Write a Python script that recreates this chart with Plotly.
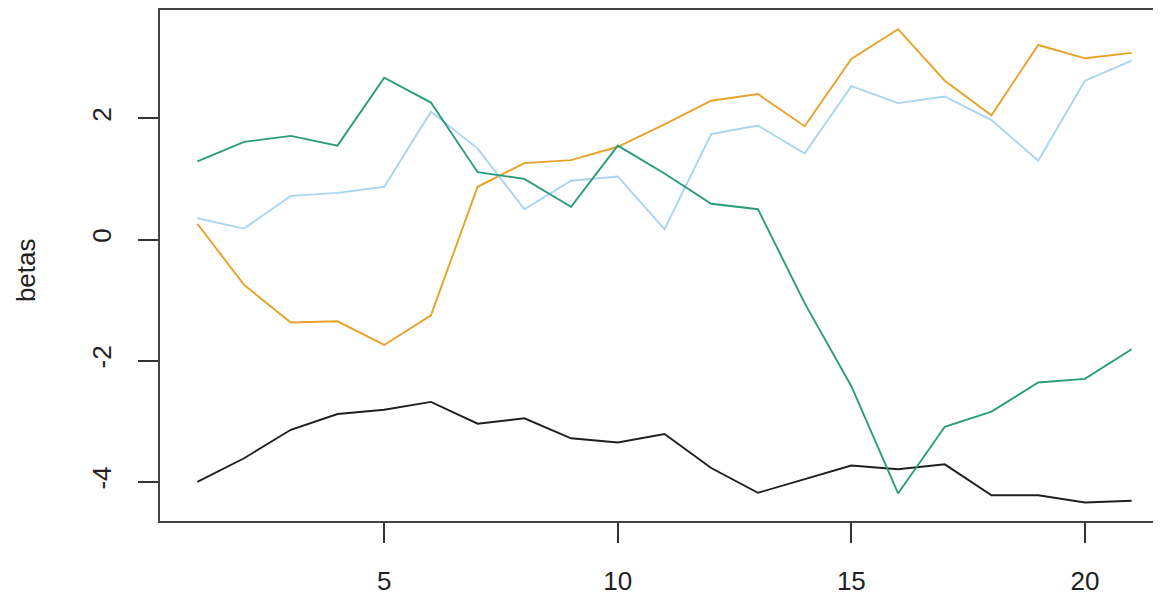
import plotly.graph_objects as go

# index 1..21 on the x axis
steps = list(range(1, 22))

# betas, one list per series
beta_black = [-4.00, -3.61, -3.14, -2.88, -2.81, -2.68, -3.04, -2.95, -3.28, -3.35, -3.21,
              -3.77, -4.18, -3.95, -3.73, -3.79, -3.71, -4.22, -4.22, -4.34, -4.31]
beta_orange = [0.26, -0.75, -1.37, -1.35, -1.74, -1.25, 0.87, 1.26, 1.31, 1.53, 1.90,
               2.29, 2.40, 1.87, 2.98, 3.47, 2.62, 2.05, 3.21, 2.99, 3.08]
beta_skyblue = [0.35, 0.18, 0.72, 0.77, 0.87, 2.11, 1.50, 0.50, 0.97, 1.04, 0.17,
                1.74, 1.88, 1.42, 2.53, 2.25, 2.36, 1.97, 1.30, 2.62, 2.95]
beta_green = [1.29, 1.61, 1.71, 1.55, 2.67, 2.26, 1.11, 1.00, 0.54, 1.55, 1.09,
              0.59, 0.50, -1.05, -2.42, -4.19, -3.09, -2.84, -2.36, -2.30, -1.81]

x_ticks = [5, 10, 15, 20]
y_ticks = [-4, -2, 0, 2]
# R prints a plain hyphen, not the unicode minus plotly uses
y_ticktext = ["-4", "-2", "0", "2"]

series = [
    (beta_black, "#1f1f1f"),
    (beta_orange, "#E6A22A"),
    (beta_skyblue, "#A9D5EF"),
    (beta_green, "#2A9C7C"),
]

fig = go.Figure()
for vals, col in series:
    fig.add_trace(go.Scatter(x=steps, y=vals, mode="lines",
                             line=dict(color=col, width=1.9), showlegend=False))

axis_font = dict(family="Liberation Sans, Arial, sans-serif", size=26, color="#222")

# R-style box: 4% padding each side, right edge runs off the page
fig.update_xaxes(range=[0.2, 21.8], tickvals=x_ticks, ticks="outside", ticklen=20,
                 tickwidth=1.5, tickcolor="#333", showline=True, mirror=True,
                 linecolor="#444", linewidth=2, showgrid=False, zeroline=False,
                 tickfont=axis_font, ticklabelstandoff=16)
fig.update_yaxes(range=[-4.645, 3.787], tickvals=y_ticks, ticktext=y_ticktext,
                 ticks="outside", ticklen=20,
                 tickwidth=1.5, tickcolor="#333", showline=True, mirror=False,
                 linecolor="#444", linewidth=2, showgrid=False, zeroline=False,
                 tickfont=axis_font, tickangle=-90, ticklabelstandoff=17)

fig.add_annotation(text="betas", xref="paper", yref="paper", x=-0.1333, y=0.49,
                   xanchor="center", yanchor="middle", textangle=-90, showarrow=False,
                   font=axis_font)

# page body adds 8px, so margins are pulled in by that much
fig.update_layout(width=1161, height=594, margin=dict(l=152, r=0, t=2, b=81),
                  plot_bgcolor="white", paper_bgcolor="white")

fig.write_html("out.html")
